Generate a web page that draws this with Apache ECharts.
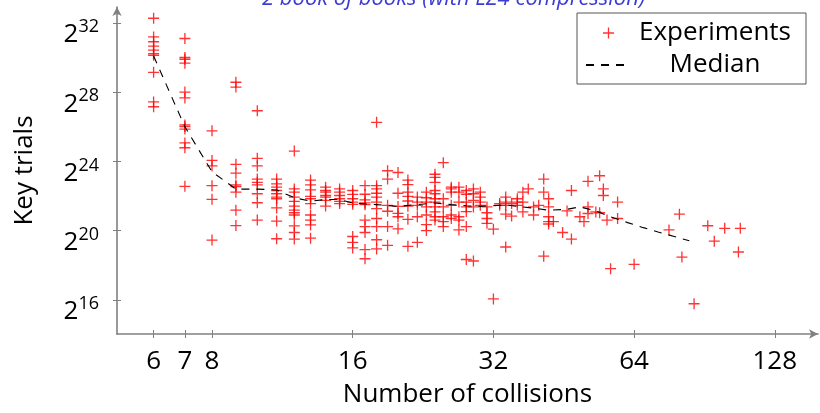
<!DOCTYPE html>
<html>
<head>
<meta charset="utf-8">
<script src="https://cdn.jsdelivr.net/npm/echarts@6/dist/echarts.min.js"></script>
<style>html,body{margin:0;padding:0;background:#fff}#c{width:820px;height:413px}</style>
</head>
<body>
<div id="c"></div>
<script>
// Number of collisions (x, integer counts) and log2(key trials) read per column
const collisionCounts = [6,7,8,9,10,11,12,13,14,15,16,17,18,19,20,21,22,23,24,25,26,27,28,29,30,31,32,33,34,35,36,37,38,39,40,41,42,43,45,46,47,49,50,51,53,54,55,56,57,59,64,76,80,81,86,92,95,100,107,108];
const keyTrialsLog2 = [
  [32.28,31.20,30.92,30.67,30.44,30.23,30.14,29.15,27.44,27.16],
  [31.11,30.01,29.91,29.68,28.01,27.67,26.11,26.02,25.87,25.07,24.79,22.56],
  [25.77,24.06,23.74,22.60,21.81,19.45],
  [28.58,28.30,23.83,23.32,22.64,22.55,22.22,21.18,20.29],
  [26.93,24.18,23.74,22.98,22.79,22.64,22.13,21.61,20.61],
  [22.98,22.70,22.51,22.32,22.13,21.94,21.84,21.31,20.55,19.53],
  [24.60,22.41,22.22,21.94,21.69,21.41,21.18,21.03,20.90,20.27,19.89,19.51],
  [22.92,22.64,22.35,21.98,21.84,21.56,20.90,20.61,20.33,19.56],
  [22.51,22.32,22.22,22.03,21.94,21.75,21.42],
  [22.41,22.22,22.03,21.84,21.69,21.56],
  [22.32,22.09,21.84,21.65,21.52,19.66,19.32,19.00],
  [22.60,22.10,21.78,21.60,21.50,20.61,20.23,19.89,18.90,18.37],
  [26.26,22.60,22.41,22.16,21.94,21.65,21.27,20.70,20.23,19.47,18.94],
  [23.46,22.98,21.46,21.12,20.23,19.15],
  [23.36,22.16,21.40,21.00,20.80,20.10],
  [22.92,22.66,22.22,21.98,21.71,21.41,20.65,19.09],
  [21.94,21.65,21.46,20.80,19.32],
  [22.22,21.90,21.65,21.37,20.90,20.35,20.00],
  [23.26,23.08,22.79,22.32,22.13,21.84,21.65,21.37,21.08,20.80,20.61],
  [23.93,21.84,21.37,20.80,20.52,20.23],
  [22.51,22.41,22.22,21.46,20.90,20.70],
  [22.51,22.22,21.65,20.80,20.61,20.04],
  [22.32,22.10,21.65,21.37,21.10,20.23,18.33],
  [22.41,22.13,21.75,21.37,18.24],
  [22.22,21.94,21.65,21.46],
  [21.37,21.03,20.70,20.42],
  [20.08,16.05],
  [21.56,21.46],
  [21.94,21.65,21.46,20.95,19.05],
  [21.56,20.84],
  [21.84,21.65,21.46],
  [22.22,21.65,21.08],
  [22.41],
  [21.37,20.90],
  [21.46],
  [22.98,22.22,18.52],
  [21.84,21.37,20.80,20.52,20.38],
  [20.52],
  [19.89],
  [21.14],
  [22.32,19.51],
  [20.80],
  [20.52],
  [22.85,21.37,20.99],
  [21.08],
  [23.17,21.03],
  [22.41,22.03],
  [20.61],
  [17.80],
  [21.65,20.70],
  [18.05],
  [20.04],
  [20.95],
  [18.47],
  [15.77],
  [20.28],
  [19.39],
  [20.13],
  [18.76],
  [20.13]
];
// Median curve
const medianCollisions = [6,7,8,9,10,11,12,13,14,15,16,18,20,22,24,26,28,30,34,36,39,42,46,49,53,57,62,67,72,78,84];
const medianLog2 = [30.1,26.0,23.4,22.4,22.4,22.35,21.9,21.7,21.8,21.8,21.6,21.5,21.4,21.5,21.6,21.5,21.44,21.4,21.48,21.4,21.3,21.18,21.23,21.37,21.14,20.8,20.46,20.17,19.92,19.66,19.41];
// Axis ticks
const xTickValues = [6,7,8,16,32,64,128];
const yTickExponents = [16,20,24,28,32];

const FONT = 'Open Sans';
const expData = [];
collisionCounts.forEach((n, i) => keyTrialsLog2[i].forEach(e => expData.push([Math.log2(n), e])));
const medData = medianCollisions.map((n, i) => [Math.log2(n), medianLog2[i]]);
const xTicksLog = xTickValues.map(v => Math.log2(v));

const plus = 'path://M4.4,0h1.2v4.4h4.4v1.2h-4.4v4.4h-1.2v-4.4h-4.4v-1.2h4.4z';
const axisColor = '#808080';
const xMin = 2.3248, xMax = 7.307, yMin = 14.02, yMax = 32.93;

const chart = echarts.init(document.getElementById('c'), null, {renderer: 'canvas'});
chart.setOption({
  animation: false,
  backgroundColor: '#fff',
  title: {
    text: '2 book of books (with LZ4 compression)',
    left: 257, top: -17,
    textStyle: {fontFamily: FONT, fontStyle: 'italic', fontWeight: 'normal', fontSize: 22, color: '#3c3cd4'}
  },
  grid: {left: 117, right: 2, top: 7, bottom: 74, containLabel: false},
  legend: {
    orient: 'vertical', left: 577, top: 13,
    padding: [7, 12, 6, 8], itemGap: 6, itemWidth: 45, itemHeight: 11,
    borderColor: '#555', borderWidth: 1, backgroundColor: '#fff',
    formatter: name => '{t|' + name + '}',
    textStyle: {color: '#000', fontFamily: FONT, rich: {t: {width: 158, align: 'center', fontSize: 26, lineHeight: 30, fontFamily: FONT, color: '#000'}}},
    data: [{name: 'Experiments', icon: plus}, {name: 'Median', itemStyle: {opacity: 0, color: 'rgba(0,0,0,0)', borderWidth: 0}}]
  },
  xAxis: [{
    type: 'value', min: xMin, max: xMax, position: 'bottom',
    name: 'Number of collisions', nameLocation: 'middle', nameGap: 48,
    nameTextStyle: {fontFamily: FONT, fontSize: 26, color: '#000', lineHeight: 26},
    axisLine: {show: true, lineStyle: {color: axisColor, width: 1.6}, symbol: ['none', 'arrow'], symbolSize: [7, 9]},
    axisTick: {show: true, length: 4, lineStyle: {color: axisColor, width: 1}, customValues: xTicksLog},
    axisLabel: {customValues: xTicksLog, margin: 15, fontFamily: FONT, fontSize: 26, lineHeight: 26, color: '#000',
      formatter: v => String(Math.round(Math.pow(2, v)))},
    splitLine: {show: false}
  }, {
    type: 'value', min: xMin, max: xMax, position: 'bottom',
    axisLine: {show: false},
    axisTick: {show: true, inside: true, length: 4, lineStyle: {color: axisColor, width: 1}, customValues: xTicksLog},
    axisLabel: {show: false, customValues: xTicksLog},
    splitLine: {show: false}
  }],
  yAxis: [{
    type: 'value', min: yMin, max: yMax, position: 'left',
    name: 'Key trials', nameLocation: 'middle', nameGap: 79,
    nameTextStyle: {fontFamily: FONT, fontSize: 26, color: '#000', lineHeight: 26},
    axisLine: {show: true, lineStyle: {color: axisColor, width: 1.6}, symbol: ['none', 'arrow'], symbolSize: [7, 9]},
    axisTick: {show: true, length: 4, lineStyle: {color: axisColor, width: 1}, customValues: yTickExponents},
    axisLabel: {customValues: yTickExponents, margin: 18, color: '#000',
      formatter: v => '{b|2}{s|' + Math.round(v) + '}',
      rich: {
        b: {fontFamily: FONT, fontSize: 26, lineHeight: 26, padding: [12, 0, 0, 0], verticalAlign: 'top', color: '#000'},
        s: {fontFamily: FONT, fontSize: 18, lineHeight: 18, padding: [8, 0, 0, 0], verticalAlign: 'top', color: '#000'}
      }},
    splitLine: {show: false}
  }, {
    type: 'value', min: yMin, max: yMax, position: 'left',
    axisLine: {show: false},
    axisTick: {show: true, inside: true, length: 4, lineStyle: {color: axisColor, width: 1}, customValues: yTickExponents},
    axisLabel: {show: false, customValues: yTickExponents},
    splitLine: {show: false}
  }],
  series: [{
    name: 'Experiments', type: 'scatter', xAxisIndex: 0, yAxisIndex: 0,
    symbol: plus, symbolSize: 11, symbolKeepAspect: true,
    itemStyle: {color: '#ff0000'},
    data: expData, z: 2
  }, {
    name: 'Median', type: 'line', xAxisIndex: 0, yAxisIndex: 0,
    showSymbol: false, symbol: 'none',
    lineStyle: {color: '#000', width: 1.1, type: [8, 7]},
    itemStyle: {color: '#000'},
    data: medData, z: 3
  }]
});
</script>
</body>
</html>
